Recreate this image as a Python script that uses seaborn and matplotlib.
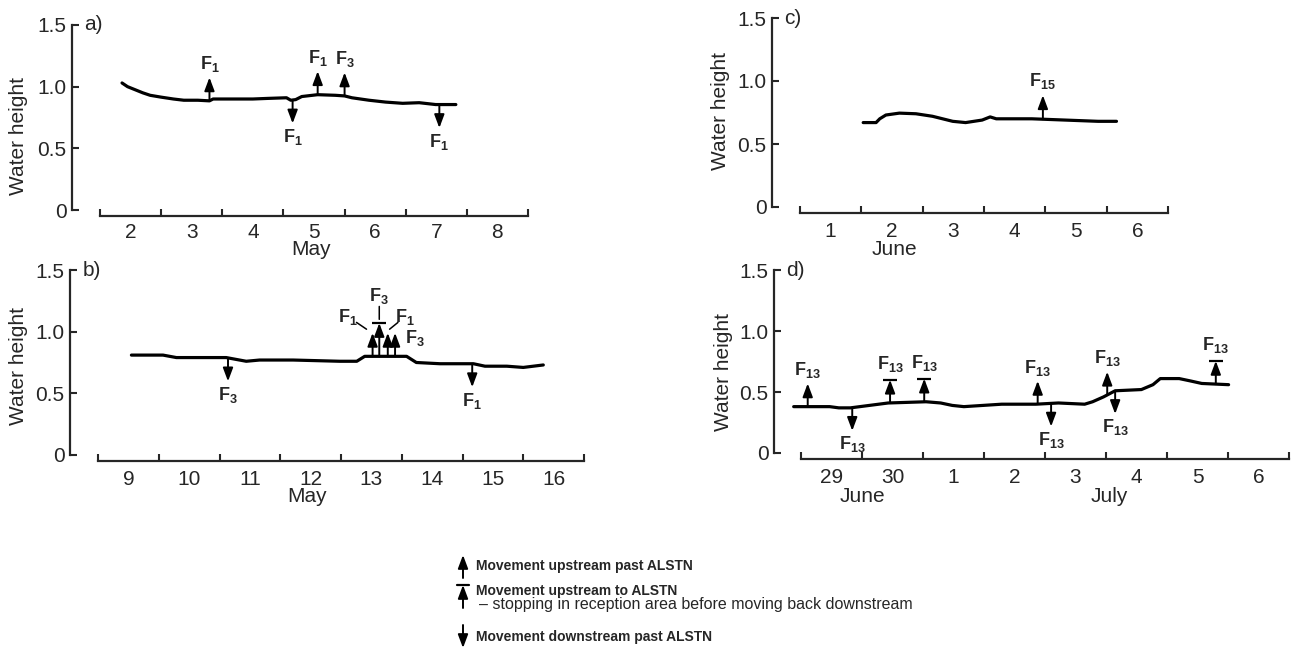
import numpy as np
import matplotlib.pyplot as plt
import seaborn as sns

sns.set_style('ticks')
plt.rcParams['font.family'] = ['Liberation Sans', 'DejaVu Sans']
plt.rcParams['mathtext.fontset'] = 'custom'
plt.rcParams['mathtext.rm'] = 'Liberation Sans'
plt.rcParams['mathtext.bf'] = 'Liberation Sans:bold'

W, H = 1292, 650

# a) 2-8 May (day of month, water height)
a_day = [2.36, 2.45, 2.55, 2.70, 2.82, 3.00, 3.20, 3.37, 3.60, 3.79, 3.85, 4.20, 4.50, 4.75,
         5.05, 5.12, 5.20, 5.30, 5.56, 5.85, 6.00, 6.12, 6.40, 6.67, 6.95, 7.22, 7.49, 7.82]
a_height = [1.03, 1.00, 0.98, 0.95, 0.93, 0.915, 0.90, 0.89, 0.89, 0.885, 0.90, 0.90, 0.90, 0.905,
            0.91, 0.89, 0.895, 0.92, 0.935, 0.93, 0.925, 0.91, 0.89, 0.875, 0.865, 0.87, 0.855, 0.855]
a_events = [(3.79, 'up', '1'), (5.15, 'down', '1'), (5.56, 'up', '1'), (6.00, 'up', '3'),
            (7.55, 'down', '1')]

# b) 9-16 May
b_day = [9.55, 10.07, 10.29, 11.11, 11.44, 11.66, 12.21, 12.98, 13.26, 13.39, 13.53, 14.08,
         14.24, 14.63, 15.18, 15.37, 15.73, 16.00, 16.33]
b_height = [0.81, 0.81, 0.79, 0.79, 0.76, 0.77, 0.77, 0.76, 0.76, 0.80, 0.80, 0.80,
            0.75, 0.74, 0.74, 0.72, 0.72, 0.71, 0.73]
b_events = [(11.14, 'down', '3'), (13.52, 'up', None), (13.63, 'stop', None),
            (13.77, 'up', None), (13.89, 'up', None), (15.16, 'down', '1')]
# cluster labels: (subscript, label x, label y, leader end x, leader end y)
b_cluster = [('1', 13.12, 1.12, 13.42, 1.02), ('3', 13.63, 1.29, 13.63, 1.10),
             ('1', 14.05, 1.12, 13.80, 1.02), ('3', 14.22, 0.95, None, None)]

# c) 1-6 June
c_day = [2.03, 2.24, 2.30, 2.40, 2.62, 2.89, 3.16, 3.49, 3.70, 3.97, 4.10, 4.20, 4.30,
         4.78, 5.32, 5.86, 6.16]
c_height = [0.67, 0.67, 0.70, 0.73, 0.745, 0.74, 0.72, 0.68, 0.67, 0.69, 0.715, 0.70, 0.70,
            0.70, 0.69, 0.68, 0.68]
c_events = [(4.96, 'up', '15')]

# d) 29 June - 6 July (days since 29 June)
d_day = [-0.12, 0.19, 0.47, 0.62, 0.81, 1.12, 1.43, 2.05, 2.29, 2.48, 2.67, 3.29, 3.85,
         4.22, 4.65, 4.78, 4.96, 5.15, 5.58, 5.77, 5.89, 6.20, 6.39, 6.57, 7.01]
d_height = [0.38, 0.38, 0.38, 0.37, 0.37, 0.39, 0.41, 0.42, 0.41, 0.39, 0.38, 0.40, 0.40,
            0.41, 0.40, 0.42, 0.46, 0.51, 0.52, 0.56, 0.61, 0.61, 0.59, 0.57, 0.56]
d_labels = ['29', '30', '1', '2', '3', '4', '5', '6']
d_events = [(0.11, 'up', '13'), (0.84, 'down', '13'), (1.46, 'stop', '13'), (2.02, 'stop', '13'),
            (3.88, 'up', '13'), (4.10, 'down', '13'), (5.02, 'up', '13'), (5.15, 'down', '13'),
            (6.80, 'stop', '13')]

ARROW = dict(arrowstyle='-|>,head_length=0.8,head_width=0.3', color='black', lw=1.4,
             shrinkA=0, shrinkB=0)


def flabel(sub):
    return r'$\mathbf{F_{%s}}$' % sub


fig = plt.figure(figsize=(W / 100, H / 100), dpi=100)


def make_axes(left, right, bottom, top):
    return fig.add_axes([left / W, 1 - bottom / H, (right - left) / W, (bottom - top) / H])


def draw_panel(ax, x, y, first, n_days, labels, letter, months, ylab_pos, pad=7):
    sns.lineplot(x=x, y=y, ax=ax, color='black', lw=2.3)
    sns.despine(ax=ax)
    ax.set_ylim(0, 1.5)
    ax.spines['bottom'].set_position(('outward', 4))
    ax.spines['bottom'].set_bounds(first, first + n_days)
    for s in ['left', 'bottom']:
        ax.spines[s].set_linewidth(1.6)
    ax.set_xticks(np.arange(first, first + n_days + 1))
    ax.set_xticklabels([])
    ax.set_xticks(np.arange(first, first + n_days) + 0.5, minor=True)
    ax.set_xticklabels(labels, minor=True)
    ax.tick_params(axis='x', which='major', direction='in', length=5, width=1.5)
    ax.tick_params(axis='x', which='minor', length=0, pad=pad, labelsize=15)
    ax.set_yticks([0, 0.5, 1.0, 1.5])
    ax.set_yticklabels(['0', '0.5', '1.0', '1.5'])
    ax.tick_params(axis='y', direction='in', length=5, width=1.5, labelsize=15, pad=4)
    ax.set_ylabel('Water height', fontsize=15)
    ax.yaxis.set_label_coords(*ylab_pos)
    ax.set_xlabel('')
    ax.annotate(letter, xy=(0, 1), xycoords='axes fraction', xytext=(9, 0),
                textcoords='offset points', va='center', fontsize=15)
    for name, mx, my in months:
        ax.text(mx, my, name, transform=ax.get_xaxis_transform(), ha='center', va='center',
                fontsize=15)


def draw_events(ax, x, y, events, length=0.19):
    for day, kind, sub in events:
        base = np.interp(day, x, y)
        ln = 0.27 if (kind == 'stop' and sub is None) else length
        tip = base - ln if kind == 'down' else base + ln
        ax.annotate('', xy=(day, tip), xytext=(day, base), arrowprops=ARROW)
        if kind == 'stop':
            ax.plot([day], [tip], marker='_', ms=10, mew=1.6, color='black')
        if sub:
            ly = tip - 0.11 if kind == 'down' else tip + (0.13 if kind == 'stop' else 0.11)
            ax.text(day, ly, flabel(sub), ha='center', va='center', fontsize=13)


# a)
ax_a = make_axes(72, 528, 210, 25)
ax_a.set_xlim(2 - 28 / 61.1, 9)
draw_panel(ax_a, a_day, a_height, 2, 7, [str(d) for d in range(2, 9)], 'a)',
           [('May', 5.45, -0.215)], (-44 / 456, 0.4), pad=5)
draw_events(ax_a, a_day, a_height, a_events)

# b)
ax_b = make_axes(70, 584, 455, 270)
ax_b.set_xlim(9 - 28 / 60.75, 17)
draw_panel(ax_b, b_day, b_height, 9, 8, [str(d) for d in range(9, 17)], 'b)',
           [('May', 12.44, -0.225)], (-42 / 514, 0.48))
draw_events(ax_b, b_day, b_height, b_events)
for sub, lx, ly, ex, ey in b_cluster:
    ax_b.text(lx, ly, flabel(sub), ha='center', va='center', fontsize=13)
    if ex is not None:
        sx = lx + (ex - lx) * 0.45
        sy = ly + (ey - ly) * 0.45
        ax_b.annotate('', xy=(ex, ey), xytext=(sx, sy),
                      arrowprops=dict(arrowstyle='-', color='black', lw=1.1,
                                      shrinkA=0, shrinkB=0))

# c)
ax_c = make_axes(772, 1168, 207, 18)
ax_c.set_xlim(1 - 28 / 61.3, 7)
draw_panel(ax_c, c_day, c_height, 1, 6, [str(d) for d in range(1, 7)], 'c)',
           [('June', 2.54, -0.225)], (-42 / 396, 0.51))
draw_events(ax_c, c_day, c_height, c_events)

# d)
ax_d = make_axes(774, 1289, 453, 270)
ax_d.set_xlim(-27 / 61, 8)
draw_panel(ax_d, d_day, d_height, 0, 8, d_labels, 'd)',
           [('June', 1.0, -0.235), ('July', 5.05, -0.235)], (-41 / 515, 0.44))
draw_events(ax_d, d_day, d_height, d_events, length=0.19)

# key
key = fig.add_axes([0, 0, 1, 1])
key.set_xlim(0, W)
key.set_ylim(H, 0)
key.axis('off')
key.annotate('', xy=(463, 555), xytext=(463, 578), arrowprops=ARROW)
key.text(476, 566, 'Movement upstream past ALSTN', fontsize=10, fontweight='bold', va='center')
key.annotate('', xy=(463, 585), xytext=(463, 608), arrowprops=ARROW)
key.plot([457, 469], [585, 585], color='black', lw=1.6)
key.text(476, 591, 'Movement upstream to ALSTN', fontsize=10, fontweight='bold', va='center')
key.text(479, 604, '\u2013 stopping in reception area before moving back downstream',
         fontsize=11.5, va='center')
key.annotate('', xy=(463, 648), xytext=(463, 625), arrowprops=ARROW)
key.text(476, 637, 'Movement downstream past ALSTN', fontsize=10, fontweight='bold', va='center')

fig.savefig('out.png', dpi=100)
